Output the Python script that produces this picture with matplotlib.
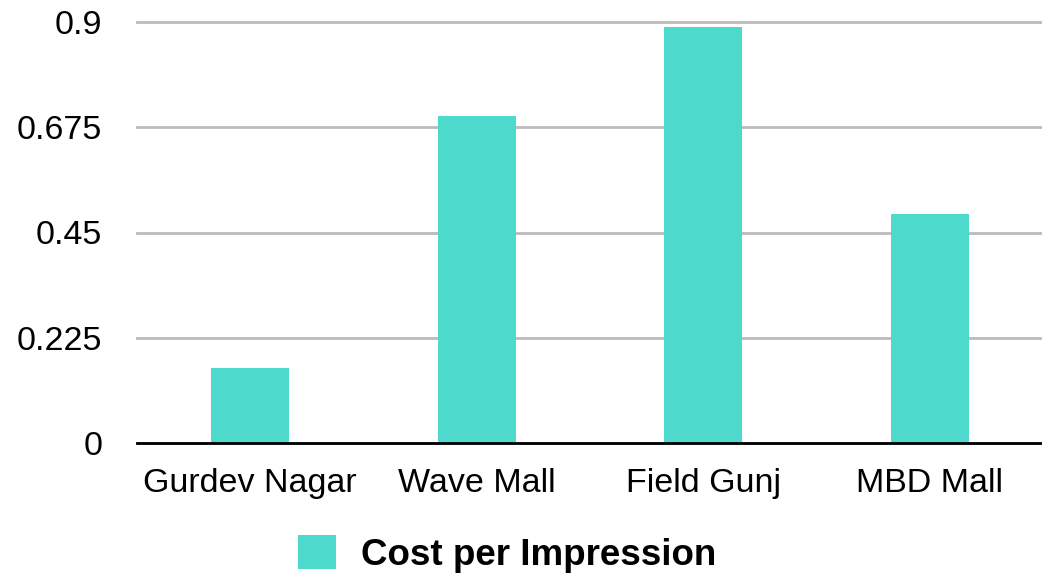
import matplotlib
matplotlib.use("Agg")
import matplotlib.pyplot as plt
from matplotlib.patches import Patch

plt.rcParams["font.family"] = ["Liberation Sans", "DejaVu Sans"]

categories = ["Gurdev Nagar", "Wave Mall", "Field Gunj", "MBD Mall"]
cost_per_impression = [0.16, 0.70, 0.89, 0.49]
y_ticks = [0, 0.225, 0.45, 0.675, 0.9]
y_tick_labels = ["0", "0.225", "0.45", "0.675", "0.9"]
series_name = "Cost per Impression"

bar_color = "#4DD9CB"
grid_color = "#BBBBBB"

fig = plt.figure(figsize=(10.42, 5.77), dpi=100)
ax = fig.add_axes([137 / 1042, 1 - 443 / 577, (1043 - 137) / 1042, (443 - 22) / 577])

x = range(len(categories))
ax.bar(x, cost_per_impression, width=0.344, color=bar_color, zorder=2)

ax.set_xlim(-0.5, len(categories) - 0.5)
ax.set_ylim(0, 0.9)
ax.set_yticks(y_ticks)
ax.set_yticklabels(y_tick_labels)
ax.set_xticks(list(x))
ax.set_xticklabels(categories)

ax.yaxis.grid(True, color=grid_color, linewidth=2, zorder=0)
ax.set_axisbelow(True)
for gl in ax.get_ygridlines():
    gl.set_clip_on(False)

for side in ["top", "right", "left"]:
    ax.spines[side].set_visible(False)
ax.spines["bottom"].set_color("black")
ax.spines["bottom"].set_linewidth(2)
ax.spines["bottom"].set_zorder(3)

ax.tick_params(axis="y", length=0, pad=25, labelsize=24.5)
ax.tick_params(axis="x", length=0, pad=18, labelsize=24.5)

handle = Patch(facecolor=bar_color, edgecolor="none")
fig.legend([handle], [series_name], loc="center",
           bbox_to_anchor=(507.5 / 1042, 1 - 554 / 577),
           frameon=False, prop={"size": 26.5, "weight": "bold"},
           handlelength=1.03, handleheight=1.03, handletextpad=0.68,
           borderpad=0, borderaxespad=0)

fig.savefig("out.png", dpi=100, facecolor="white")
